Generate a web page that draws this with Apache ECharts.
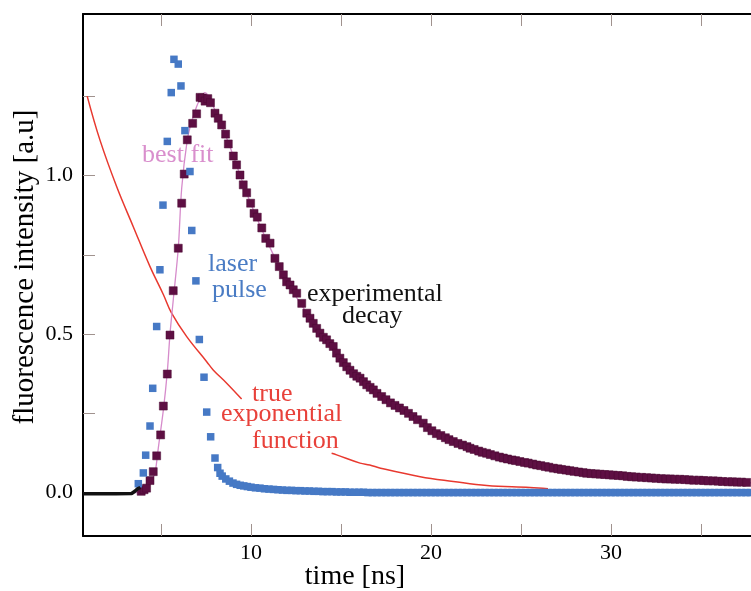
<!DOCTYPE html>
<html>
<head>
<meta charset="utf-8">
<script src="https://cdn.jsdelivr.net/npm/echarts@6/dist/echarts.min.js"></script>
<style>
html,body{margin:0;padding:0;background:#fff;}
#chart{width:751px;height:591px;}
</style>
</head>
<body>
<div id="chart"></div>
<script>
// ---- data ----
const xTickValues = [5, 10, 15, 20, 25, 30, 35];
const xTickLabels = [10, 20, 30];
const yTickValues = [0.25, 0.5, 0.75, 1.0, 1.25];
const yTickLabels = [0, 0.5, 1.0];

const laserPulse = [
  [3.74,0.028],[4.02,0.062],[4.15,0.118],[4.39,0.210],[4.54,0.329],[4.76,0.524],[4.94,0.703],
  [5.11,0.907],[5.35,1.108],[5.57,1.262],[5.72,1.367],[5.96,1.352],[6.11,1.283],[6.33,1.142],
  [6.61,1.013],[6.71,0.827],[6.94,0.668],[7.13,0.483],[7.39,0.364],[7.54,0.254],[7.76,0.176],
  [8.00,0.109],[8.15,0.079],[8.28,0.061],
  [8.40,0.052],[8.60,0.043],[8.80,0.036],[9.00,0.030],[9.20,0.026],[9.40,0.023],[9.60,0.021],
  [9.80,0.019],[10.00,0.017],[10.25,0.015],[10.50,0.014],[10.75,0.012],[11.00,0.011],[11.25,0.010],
  [11.50,0.009],[11.75,0.008],[12.00,0.007],[12.25,0.007],[12.50,0.006],[12.75,0.006],[13.00,0.005],
  [13.25,0.005],[13.50,0.004],[13.75,0.004],[14.00,0.003],[14.25,0.003],[14.50,0.003],[14.75,0.002],
  [15.00,0.002],[15.25,0.002],[15.50,0.001],[15.75,0.001],[16.00,0.001],[16.25,0.001],[16.50,0.000],
  [16.75,0.000],[17.00,0.000],[17.25,0.000],[17.50,0.000],[17.75,0.000],[18.00,0.000],[18.25,0.000],
  [18.50,0.000],[18.75,0.000],[19.00,0.000],[19.25,0.000],[19.50,0.000],[19.75,0.000],[20.00,0.000],
  [20.25,0.000],[20.50,0.000],[20.75,0.000],[21.00,0.000],[21.25,0.000],[21.50,0.000],[21.75,0.000],
  [22.00,0.000],[22.25,0.000],[22.50,0.000],[22.75,0.000],[23.00,0.000],[23.25,0.000],[23.50,0.000],
  [23.75,0.000],[24.00,0.000],[24.25,0.000],[24.50,0.000],[24.75,0.000],[25.00,0.000],[25.25,0.000],
  [25.50,0.000],[25.75,0.000],[26.00,0.000],[26.25,0.000],[26.50,0.000],[26.75,0.000],[27.00,0.000],
  [27.25,0.000],[27.50,0.000],[27.75,0.000],[28.00,0.000],[28.25,0.000],[28.50,0.000],[28.75,0.000],
  [29.00,0.000],[29.25,0.000],[29.50,0.000],[29.75,0.000],[30.00,0.000],[30.25,0.000],[30.50,0.000],
  [30.75,0.000],[31.00,0.000],[31.25,0.000],[31.50,0.000],[31.75,0.000],[32.00,0.000],[32.25,0.000],
  [32.50,0.000],[32.75,0.000],[33.00,0.000],[33.25,0.000],[33.50,0.000],[33.75,0.000],[34.00,0.000],
  [34.25,0.000],[34.50,0.000],[34.75,0.000],[35.00,0.000],[35.25,0.000],[35.50,0.000],[35.75,0.000],
  [36.00,0.000],[36.25,0.000],[36.50,0.000],[36.75,0.000],[37.00,0.000],[37.25,0.000],[37.50,0.000],
  [37.75,0.000]
];

const experimentalDecay = [
  [3.90,0.004],[4.06,0.009],[4.20,0.014],[4.39,0.038],[4.57,0.066],[4.76,0.116],[4.98,0.182],
  [5.13,0.273],[5.35,0.374],[5.50,0.497],[5.68,0.637],[5.96,0.771],[6.15,0.913],[6.29,1.005],
  [6.46,1.113],[6.76,1.165],[6.98,1.195],[7.17,1.247],[7.30,1.245],[7.45,1.235],[7.60,1.243],
  [7.75,1.230],[8.00,1.197],[8.18,1.181],[8.37,1.160],[8.59,1.131],[8.74,1.100],[9.02,1.062],
  [9.20,1.034],[9.39,1.002],[9.57,0.971],[9.76,0.946],[9.98,0.913],[10.17,0.881],[10.35,0.869],
  [10.60,0.835],[10.82,0.802],[11.06,0.787],[11.33,0.739],[11.57,0.713],[11.80,0.687],[11.98,0.665],
  [12.17,0.655],[12.35,0.640],[12.54,0.629],[12.82,0.597],[13.10,0.566],[13.28,0.550],[13.46,0.534],
  [13.65,0.518],[13.83,0.503],[14.02,0.490],[14.20,0.482],[14.38,0.470],[14.57,0.461],[14.75,0.440],
  [14.94,0.424],[15.13,0.410],[15.32,0.397],[15.50,0.386],[15.70,0.375],[15.88,0.367],[16.06,0.361],
  [16.25,0.350],[16.43,0.340],[16.62,0.332],[16.80,0.324],[17.00,0.313],[17.26,0.303],[17.50,0.293],
  [17.75,0.283],[18.00,0.275],[18.25,0.267],[18.50,0.259],[18.75,0.250],[19.00,0.240],[19.25,0.230],
  [19.57,0.219],[19.80,0.205],[20.05,0.195],[20.30,0.186],[20.55,0.180],[20.80,0.173],[21.00,0.167],
  [21.24,0.161],[21.50,0.155],[21.75,0.150],[22.00,0.145],[22.17,0.140],[22.40,0.136],[22.65,0.131],
  [22.85,0.127],[23.09,0.124],[23.30,0.120],[23.55,0.116],[23.80,0.112],[24.02,0.109],[24.25,0.106],
  [24.50,0.103],[24.70,0.101],[24.94,0.098],[25.20,0.095],[25.40,0.093],[25.65,0.090],[25.87,0.087],
  [26.10,0.085],[26.35,0.082],[26.55,0.080],[26.80,0.077],[27.05,0.075],[27.25,0.073],[27.50,0.071],
  [27.72,0.069],[27.95,0.067],[28.20,0.065],[28.45,0.063],[28.65,0.061],[28.90,0.060],[29.15,0.059],
  [29.40,0.058],[29.65,0.057],[29.90,0.056],[30.13,0.055],[30.40,0.054],[30.65,0.053],[30.90,0.051],
  [31.15,0.050],[31.40,0.049],[31.70,0.048],[31.98,0.047],[32.25,0.046],[32.50,0.045],[32.80,0.044],
  [33.05,0.043],[33.30,0.043],[33.55,0.042],[33.83,0.042],[34.10,0.041],[34.35,0.040],[34.60,0.039],
  [34.90,0.039],[35.15,0.038],[35.40,0.037],[35.68,0.037],[35.95,0.036],[36.20,0.035],[36.50,0.034],
  [36.75,0.034],[37.00,0.033],[37.25,0.033],[37.54,0.032],[37.80,0.031]
];

const prePulseBaseline = [
  [0.67,-0.004],[1.50,-0.004],[2.50,-0.004],[3.37,-0.003],[3.55,0.004],[3.70,0.012],[3.85,0.016]
];

const bestFit = [
  [0.67,0.000],[3.60,0.000],[3.90,0.004],[4.20,0.015],[4.50,0.040],[4.67,0.062],[4.85,0.140],
  [5.13,0.260],[5.35,0.380],[5.50,0.500],[5.68,0.607],[5.96,0.771],[6.15,0.960],[6.46,1.113],
  [6.70,1.170],[6.98,1.218],[7.20,1.245],[7.44,1.262],[7.60,1.255],[7.80,1.230],[8.00,1.207],
  [8.50,1.140],[9.00,1.065],[9.50,0.985],[10.00,0.910],[11.00,0.780],[12.00,0.665],[13.00,0.575],
  [14.00,0.490],[15.00,0.420],[16.00,0.362],[17.00,0.313],[18.00,0.273],[19.00,0.240],[20.00,0.196],
  [22.00,0.145],[24.00,0.109],[26.00,0.086],[28.00,0.066],[30.00,0.056],[32.00,0.047],[34.00,0.041],
  [36.00,0.036],[37.80,0.031]
];

const trueExponential = [
  [0.90,1.251],[1.61,1.112],[2.54,0.965],[3.46,0.839],[4.39,0.713],[5.13,0.625],[5.59,0.566],
  [6.43,0.492],[7.54,0.413],[7.90,0.387],[8.65,0.345],[9.48,0.295],
  null,
  [14.48,0.124],[14.76,0.119],[16.06,0.093],[16.60,0.087],[17.20,0.077],[19.40,0.050],[21.24,0.035],
  [23.10,0.022],[25.50,0.016],[26.50,0.012]
];

// ---- chart ----
const FONT = '"Liberation Serif", "Times New Roman", serif';
const chart = echarts.init(document.getElementById('chart'), null, {renderer: 'canvas'});

function note(text, x, baseline, color, size) {
  size = size || 26;
  return {
    type: 'text', x: x, y: baseline - Math.round(size * 0.34), z: 100,
    style: { text: text, font: size + 'px ' + FONT, fill: color, align: 'left', verticalAlign: 'middle' }
  };
}

const axisLineStyle = { color: '#000', width: 2 };
const tickStyle = { color: '#a0928e', width: 1 };

const option = {
  animation: false,
  backgroundColor: '#fff',
  grid: { left: 83, right: 0, top: 14, bottom: 55, containLabel: false },
  xAxis: [
    {
      type: 'value', min: 0.667, max: 37.78, position: 'bottom',
      axisLine: { show: true, onZero: false, lineStyle: axisLineStyle },
      axisTick: { show: true, inside: true, length: 12, lineStyle: tickStyle, customValues: xTickValues },
      axisLabel: { show: true, customValues: xTickLabels, fontFamily: FONT, fontSize: 22, color: '#000', margin: 6 },
      splitLine: { show: false }
    },
    {
      type: 'value', min: 0.667, max: 37.78, position: 'top',
      axisLine: { show: true, onZero: false, lineStyle: axisLineStyle },
      axisTick: { show: true, inside: true, length: 12, lineStyle: tickStyle, customValues: xTickValues },
      axisLabel: { show: false },
      splitLine: { show: false }
    }
  ],
  yAxis: {
    type: 'value', min: -0.137, max: 1.51,
    axisLine: { show: true, onZero: false, lineStyle: axisLineStyle },
    axisTick: { show: true, inside: true, length: 12, lineStyle: tickStyle, customValues: yTickValues },
    axisLabel: { show: true, customValues: yTickLabels, formatter: v => Number(v).toFixed(1),
                 fontFamily: FONT, fontSize: 22, color: '#000', margin: 10 },
    splitLine: { show: false }
  },
  series: [
    {
      name: 'true exponential function', type: 'line', data: trueExponential, z: 2,
      showSymbol: false, connectNulls: false, smooth: 0.4,
      lineStyle: { color: '#e8392f', width: 1.5 }
    },
    {
      name: 'best fit', type: 'line', data: bestFit, z: 3, showSymbol: false, smooth: 0.3,
      lineStyle: { color: '#d68bcb', width: 1.3 }
    },
    {
      name: 'experimental decay', type: 'scatter', data: experimentalDecay, z: 4,
      symbol: 'rect', symbolSize: 8,
      itemStyle: { color: '#5e0f43', borderColor: '#4a0a33', borderWidth: 0.5, opacity: 1 }
    },
    {
      name: 'laser pulse', type: 'scatter', data: laserPulse, z: 5,
      symbol: 'rect', symbolSize: 7.5,
      itemStyle: { color: '#4679c5', opacity: 1 }
    },
    {
      name: 'pre-pulse', type: 'line', data: prePulseBaseline, z: 6, showSymbol: false,
      lineStyle: { color: '#111', width: 3.5 }
    }
  ],
  graphic: [
    note('best fit', 142, 164, '#d98fcd'),
    note('laser', 208, 273, '#4a7cc4'),
    note('pulse', 212, 299, '#4a7cc4'),
    note('experimental', 307, 303, '#111'),
    note('decay', 342, 325, '#111'),
    note('true', 252, 403, '#e8413a'),
    note('exponential', 221, 423, '#e8413a'),
    note('function', 252, 450, '#e8413a'),
    {
      type: 'text', x: 25, y: 267, rotation: Math.PI / 2, z: 100,
      style: { text: 'fluorescence intensity [a.u]', font: '29px ' + FONT, fill: '#000', align: 'center', verticalAlign: 'middle' }
    },
    {
      type: 'text', x: 355, y: 577, z: 100,
      style: { text: 'time [ns]', font: '28px ' + FONT, fill: '#000', align: 'center', verticalAlign: 'middle' }
    }
  ]
};
chart.setOption(option);
</script>
</body>
</html>
